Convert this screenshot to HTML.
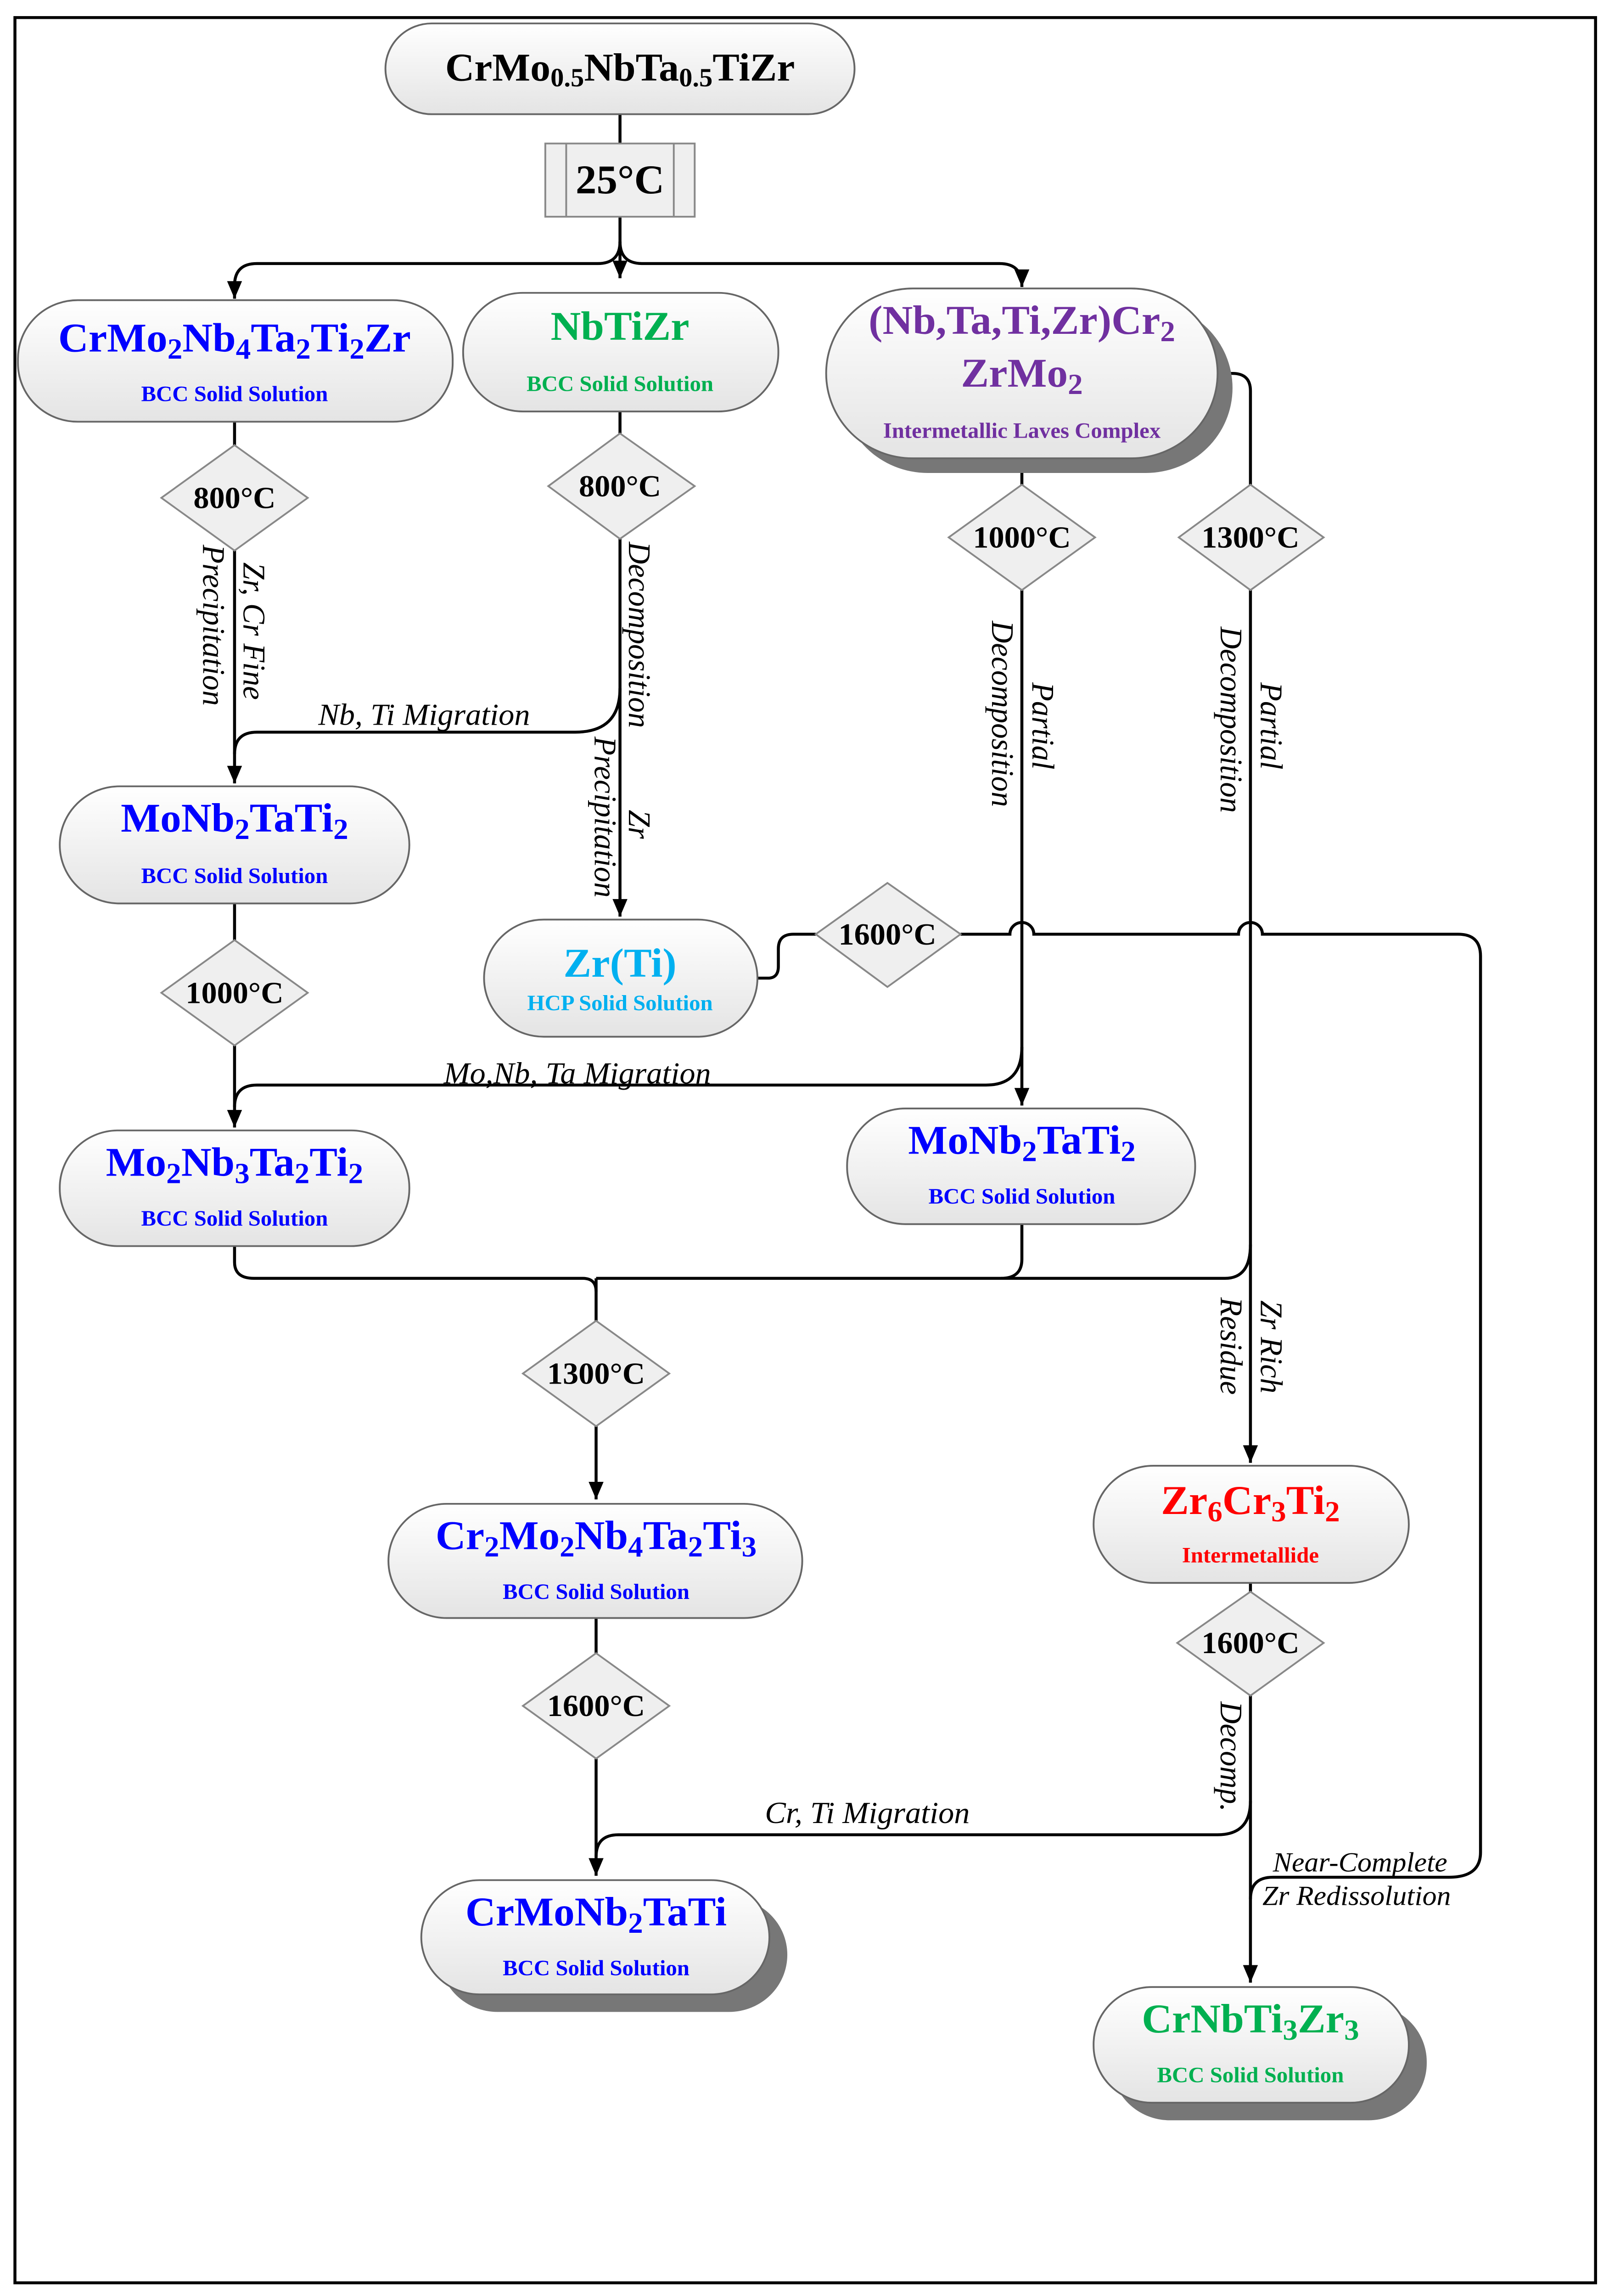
<!DOCTYPE html>
<html><head><meta charset="utf-8"><style>
html,body{margin:0;padding:0;background:#fff;width:100vw;height:100vh;overflow:hidden;position:relative}
svg{display:block;position:absolute;left:0;top:0;width:100vw;height:100vh}
text{font-family:"Liberation Serif",serif}
.t{font-weight:bold;font-size:28px;text-anchor:middle}
.s{font-weight:bold;font-size:15px;text-anchor:middle}
.d{font-weight:bold;font-size:21px;text-anchor:middle}
.l{font-style:italic;font-size:21px}
.ln{fill:none;stroke:#000;stroke-width:2}
.nd{fill:url(#g);stroke:#666;stroke-width:1.2}
.dm{fill:#efefef;stroke:#888;stroke-width:1.2}
</style></head><body>
<svg width="3505" height="5100" viewBox="0 0 1077 1568" preserveAspectRatio="none" xmlns="http://www.w3.org/2000/svg">
<defs>
<linearGradient id="g" x1="0" y1="0" x2="0" y2="1"><stop offset="0" stop-color="#ffffff"/><stop offset="1" stop-color="#e4e4e4"/></linearGradient>
<marker id="b" markerWidth="12" markerHeight="14" refX="6" refY="13" markerUnits="userSpaceOnUse" viewBox="0 0 12 14"><path d="M1,1 L6,13 L11,1 Z" fill="#000"/></marker>
</defs>
<rect x="0" y="0" width="1077" height="1568" fill="#fff"/>
<rect x="10" y="12" width="1058" height="1547" fill="none" stroke="#000" stroke-width="2"/>

<path class="ln" d="M415,78 V98"/>
<path class="ln" d="M415,148 V190" marker-end="url(#b)"/>
<path class="ln" d="M415,165 Q415,180 400,180 H172 Q157,180 157,195 V204" marker-end="url(#b)"/>
<path class="ln" d="M415,165 Q415,180 430,180 H669 Q684,180 684,195 V196" marker-end="url(#b)"/>
<path class="ln" d="M157,288 V304"/>
<path class="ln" d="M415,281 V296"/>
<path class="ln" d="M684,313 V331"/>
<path class="ln" d="M815,255 H825 Q837,255 837,267 V331"/>
<path class="ln" d="M157,376 V535" marker-end="url(#b)"/>
<path class="ln" d="M415,368 V626" marker-end="url(#b)"/>
<path class="ln" d="M415,470 Q415,500 385,500 H172 Q157,500 157,515"/>
<path class="ln" d="M157,617 V642"/>
<path class="ln" d="M157,714 V770" marker-end="url(#b)"/>
<path class="ln" d="M684,403 V755" marker-end="url(#b)"/>
<path class="ln" d="M684,715 Q684,741 660,741 H172 Q157,741 157,756"/>
<path class="ln" d="M837,403 V999" marker-end="url(#b)"/>
<path class="ln" d="M507,668 H514 Q521,668 521,660 V648 Q521,638 531,638 H546"/>
<path class="ln" d="M643,638 H676 A8,8 0 0 1 692,638 H829 A8,8 0 0 1 845,638 H976 Q991,638 991,653 V1265 Q991,1282 970,1282 H852 Q837,1282 837,1297"/>
<path class="ln" d="M157,851 V862 Q157,873 170,873 H390 Q399,873 399,882"/>
<path class="ln" d="M684,836 V860 Q684,873 670,873 H399"/>
<path class="ln" d="M837,850 Q837,873 820,873 H670"/>
<path class="ln" d="M399,873 V902"/>
<path class="ln" d="M399,974 V1024" marker-end="url(#b)"/>
<path class="ln" d="M399,1105 V1129"/>
<path class="ln" d="M399,1201 V1281" marker-end="url(#b)"/>
<path class="ln" d="M837,1081 V1087"/>
<path class="ln" d="M837,1158 V1354" marker-end="url(#b)"/>
<path class="ln" d="M837,1230 Q837,1253 815,1253 H414 Q399,1253 399,1268"/>

<rect class="nd" x="258" y="16" width="314" height="62" rx="31"/>
<text class="t" x="415" y="55" style="font-size:27px">CrMo<tspan font-size="18" dy="4">0.5</tspan><tspan dy="-4">NbTa</tspan><tspan font-size="18" dy="4">0.5</tspan><tspan dy="-4">TiZr</tspan></text>
<rect x="365" y="98" width="100" height="50" fill="#efefef" stroke="#888" stroke-width="1.2"/>
<line x1="379" y1="98" x2="379" y2="148" stroke="#888" stroke-width="1.2"/>
<line x1="451" y1="98" x2="451" y2="148" stroke="#888" stroke-width="1.2"/>
<text class="t" x="415" y="132">25°C</text>

<rect class="nd" x="12" y="205" width="291" height="83" rx="40"/>
<text class="t" x="157" y="240" fill="#0000ff">CrMo<tspan font-size="20" dy="5">2</tspan><tspan dy="-5">Nb</tspan><tspan font-size="20" dy="5">4</tspan><tspan dy="-5">Ta</tspan><tspan font-size="20" dy="5">2</tspan><tspan dy="-5">Ti</tspan><tspan font-size="20" dy="5">2</tspan><tspan dy="-5">Zr</tspan></text>
<text class="s" x="157" y="274" fill="#0000ff">BCC Solid Solution</text>
<rect class="nd" x="310" y="200" width="211" height="81" rx="40"/>
<text class="t" x="415" y="232" fill="#00b050">NbTiZr</text>
<text class="s" x="415" y="267" fill="#00b050">BCC Solid Solution</text>
<rect x="563" y="207" width="262" height="116" rx="58" fill="#777"/>
<rect class="nd" x="553" y="197" width="262" height="116" rx="58"/>
<text class="t" x="684" y="228" fill="#7030a0">(Nb,Ta,Ti,Zr)Cr<tspan font-size="20" dy="5">2</tspan></text>
<text class="t" x="684" y="264" fill="#7030a0">ZrMo<tspan font-size="20" dy="5">2</tspan></text>
<text class="s" x="684" y="299" fill="#7030a0">Intermetallic Laves Complex</text>

<polygon class="dm" points="157,304 206,340 157,376 108,340"/><text class="d" x="157" y="347">800°C</text>
<polygon class="dm" points="415,296 465,332 415,368 367,332"/><text class="d" x="415" y="339">800°C</text>
<polygon class="dm" points="684,331 733,367 684,403 635,367"/><text class="d" x="684" y="374">1000°C</text>
<polygon class="dm" points="837,331 886,367 837,403 789,367"/><text class="d" x="837" y="374">1300°C</text>
<polygon class="dm" points="157,642 206,678 157,714 108,678"/><text class="d" x="157" y="685">1000°C</text>
<polygon class="dm" points="594,603 643,638 594,674 546,638"/><text class="d" x="594" y="645">1600°C</text>
<polygon class="dm" points="399,902 448,938 399,974 350,938"/><text class="d" x="399" y="945">1300°C</text>
<polygon class="dm" points="399,1129 448,1165 399,1201 350,1165"/><text class="d" x="399" y="1172">1600°C</text>
<polygon class="dm" points="837,1087 886,1122 837,1158 788,1122"/><text class="d" x="837" y="1129">1600°C</text>

<rect class="nd" x="40" y="537" width="234" height="80" rx="40"/>
<text class="t" x="157" y="568" fill="#0000ff">MoNb<tspan font-size="20" dy="5">2</tspan><tspan dy="-5">TaTi</tspan><tspan font-size="20" dy="5">2</tspan></text>
<text class="s" x="157" y="603" fill="#0000ff">BCC Solid Solution</text>
<rect class="nd" x="324" y="628" width="183" height="80" rx="40"/>
<text class="t" x="415" y="667" fill="#00b0f0">Zr(Ti)</text>
<text class="s" x="415" y="690" fill="#00b0f0">HCP Solid Solution</text>
<rect class="nd" x="40" y="772" width="234" height="79" rx="39"/>
<text class="t" x="157" y="803" fill="#0000ff">Mo<tspan font-size="20" dy="5">2</tspan><tspan dy="-5">Nb</tspan><tspan font-size="20" dy="5">3</tspan><tspan dy="-5">Ta</tspan><tspan font-size="20" dy="5">2</tspan><tspan dy="-5">Ti</tspan><tspan font-size="20" dy="5">2</tspan></text>
<text class="s" x="157" y="837" fill="#0000ff">BCC Solid Solution</text>
<rect class="nd" x="567" y="757" width="233" height="79" rx="39"/>
<text class="t" x="684" y="788" fill="#0000ff">MoNb<tspan font-size="20" dy="5">2</tspan><tspan dy="-5">TaTi</tspan><tspan font-size="20" dy="5">2</tspan></text>
<text class="s" x="684" y="822" fill="#0000ff">BCC Solid Solution</text>
<rect class="nd" x="260" y="1027" width="277" height="78" rx="39"/>
<text class="t" x="399" y="1058" fill="#0000ff">Cr<tspan font-size="20" dy="5">2</tspan><tspan dy="-5">Mo</tspan><tspan font-size="20" dy="5">2</tspan><tspan dy="-5">Nb</tspan><tspan font-size="20" dy="5">4</tspan><tspan dy="-5">Ta</tspan><tspan font-size="20" dy="5">2</tspan><tspan dy="-5">Ti</tspan><tspan font-size="20" dy="5">3</tspan></text>
<text class="s" x="399" y="1092" fill="#0000ff">BCC Solid Solution</text>
<rect class="nd" x="732" y="1001" width="211" height="80" rx="40"/>
<text class="t" x="837" y="1034" fill="#ff0000">Zr<tspan font-size="20" dy="5">6</tspan><tspan dy="-5">Cr</tspan><tspan font-size="20" dy="5">3</tspan><tspan dy="-5">Ti</tspan><tspan font-size="20" dy="5">2</tspan></text>
<text class="s" x="837" y="1067" fill="#ff0000">Intermetallide</text>
<rect x="294" y="1296" width="233" height="78" rx="39" fill="#777"/>
<rect class="nd" x="282" y="1284" width="233" height="78" rx="39"/>
<text class="t" x="399" y="1315" fill="#0000ff">CrMoNb<tspan font-size="20" dy="5">2</tspan><tspan dy="-5">TaTi</tspan></text>
<text class="s" x="399" y="1349" fill="#0000ff">BCC Solid Solution</text>
<rect x="744" y="1369" width="211" height="79" rx="39" fill="#777"/>
<rect class="nd" x="732" y="1357" width="211" height="79" rx="39"/>
<text class="t" x="837" y="1388" fill="#00b050">CrNbTi<tspan font-size="20" dy="5">3</tspan><tspan dy="-5">Zr</tspan><tspan font-size="20" dy="5">3</tspan></text>
<text class="s" x="837" y="1422" fill="#00b050">BCC Solid Solution</text>

<text class="l" transform="translate(163,384) rotate(90)">Zr, Cr Fine</text>
<text class="l" transform="translate(136,372) rotate(90)">Precipitation</text>
<text class="l" x="213" y="495">Nb, Ti Migration</text>
<text class="l" transform="translate(421,370) rotate(90)">Decomposition</text>
<text class="l" transform="translate(421,553) rotate(90)">Zr</text>
<text class="l" transform="translate(398,503) rotate(90)">Precipitation</text>
<text class="l" transform="translate(691,466) rotate(90)">Partial</text>
<text class="l" transform="translate(664,424) rotate(90)">Decomposition</text>
<text class="l" transform="translate(844,466) rotate(90)">Partial</text>
<text class="l" transform="translate(817,428) rotate(90)">Decomposition</text>
<text class="l" x="297" y="740">Mo,Nb, Ta Migration</text>
<text class="l" transform="translate(844,888) rotate(90)">Zr Rich</text>
<text class="l" transform="translate(817,886) rotate(90)">Residue</text>
<text class="l" transform="translate(817,1162) rotate(90)">Decomp.</text>
<text class="l" x="512" y="1245">Cr, Ti Migration</text>
<text class="l" x="852" y="1278" style="font-size:19px">Near-Complete</text>
<text class="l" x="845" y="1301" style="font-size:19px">Zr Redissolution</text>
</svg>
</body></html>
